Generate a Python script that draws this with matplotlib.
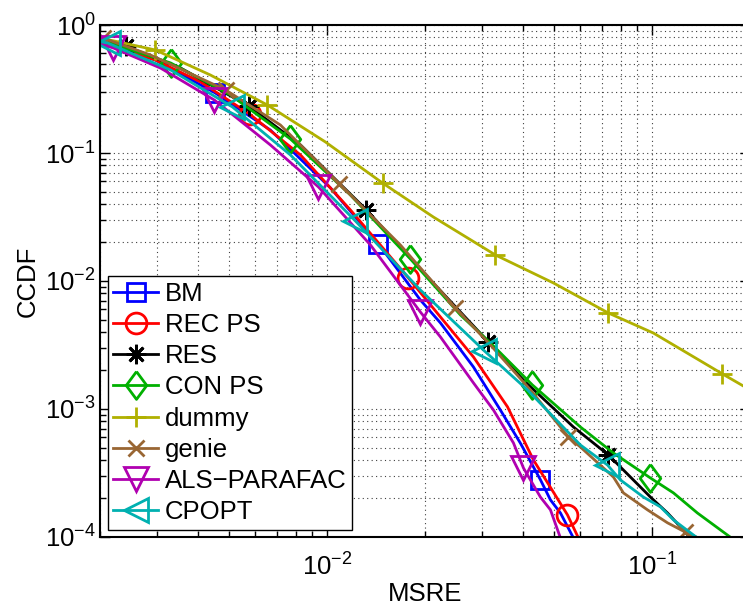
import matplotlib
matplotlib.use("Agg")
import matplotlib.pyplot as plt
from matplotlib.ticker import LogLocator, NullFormatter

plt.rcParams['font.family'] = ['Liberation Sans', 'DejaVu Sans']
plt.rcParams['mathtext.fontset'] = 'custom'
plt.rcParams['mathtext.rm'] = 'Liberation Sans'
plt.rcParams['mathtext.default'] = 'regular'

# ---------------- data (MSRE vs CCDF) ----------------
bm_x = [0.00201, 0.00296, 0.00453, 0.00669, 0.01024, 0.01438, 0.01936, 0.02232, 0.02819, 0.03413, 0.03933, 0.04531, 0.04864, 0.05222, 0.05726]
bm_y = [0.737, 0.533, 0.294, 0.151, 0.0533, 0.0195, 0.0071, 0.0047, 0.00213, 0.00098, 0.00054, 0.00028, 0.000195, 0.000154, 0.0000982]
bm_mk = [2, 5, 11]

rec_x = [0.00201, 0.00296, 0.00408, 0.00577, 0.00828, 0.01179, 0.01779, 0.02232, 0.02819, 0.03588, 0.04312, 0.05487, 0.05932]
rec_y = [0.737, 0.533, 0.359, 0.2017, 0.0965, 0.0359, 0.01055, 0.00523, 0.00255, 0.00104, 0.000400, 0.000149, 0.0000982]
rec_mk = [3, 6, 11]

res_x = [0.00201, 0.00240, 0.00354, 0.00573, 0.00828, 0.01321, 0.02079, 0.03135, 0.04018, 0.05726, 0.07336, 0.08574, 0.09881, 0.1115, 0.1222, 0.1330]
res_y = [0.763, 0.685, 0.461, 0.233, 0.1155, 0.0359, 0.01018, 0.00334, 0.00168, 0.000723, 0.000437, 0.000294, 0.000205, 0.000154, 0.000120, 0.0000945]
res_mk = [1, 3, 5, 7, 10]

con_x = [0.00201, 0.00330, 0.00504, 0.00771, 0.01179, 0.01804, 0.02572, 0.03180, 0.04282, 0.06017, 0.07601, 0.09881, 0.1163, 0.1378, 0.1754]
con_y = [0.763, 0.505, 0.284, 0.1286, 0.0470, 0.01485, 0.00542, 0.00328, 0.00154, 0.000723, 0.000453, 0.000289, 0.000221, 0.000154, 0.0000982]
con_mk = [1, 3, 5, 8, 11]

dum_x = [0.00201, 0.00296, 0.00437, 0.00655, 0.00988, 0.01480, 0.02123, 0.03295, 0.04969, 0.07336, 0.1009, 0.1645, 0.1910]
dum_y = [0.791, 0.638, 0.407, 0.237, 0.1219, 0.0583, 0.0316, 0.01596, 0.00965, 0.00562, 0.00392, 0.00188, 0.00151]
dum_mk = [1, 3, 5, 7, 9, 11]

gen_x = [0.00204, 0.00286, 0.00487, 0.00718, 0.01091, 0.01680, 0.02482, 0.03180, 0.04222, 0.05527, 0.06017, 0.07601, 0.08158, 0.09672, 0.1115, 0.1266, 0.1388]
gen_y = [0.791, 0.583, 0.311, 0.1655, 0.0573, 0.01911, 0.00615, 0.00316, 0.00141, 0.000604, 0.000504, 0.000294, 0.000221, 0.000163, 0.000129, 0.000109, 0.0000982]
gen_mk = [0, 2, 4, 6, 9, 15]

als_x = [0.00201, 0.00220, 0.00307, 0.00450, 0.00669, 0.00940, 0.01359, 0.01936, 0.02232, 0.02819, 0.03248, 0.03743, 0.04018, 0.04531, 0.04864, 0.05222]
als_y = [0.710, 0.661, 0.461, 0.259, 0.1155, 0.0543, 0.01911, 0.00572, 0.00365, 0.00160, 0.000982, 0.000543, 0.000346, 0.000205, 0.000163, 0.0000982]
als_mk = [1, 3, 5, 7, 12]

cp_x = [0.00201, 0.00211, 0.00330, 0.00511, 0.00771, 0.01222, 0.01936, 0.03048, 0.04133, 0.06017, 0.07287, 0.07987, 0.09401, 0.1060, 0.1163, 0.1378]
cp_y = [0.740, 0.723, 0.445, 0.229, 0.0965, 0.0294, 0.00850, 0.00284, 0.00141, 0.000523, 0.000365, 0.000279, 0.000205, 0.000172, 0.000136, 0.0000982]
cp_mk = [1, 3, 5, 7, 10]

labels = ["BM", "REC PS", "RES", "CON PS", "dummy", "genie", "ALS\u2212PARAFAC", "CPOPT"]

# ---------------- style ----------------
diamond = [(0, 1), (0.74, 0), (0, -1), (-0.74, 0), (0, 1)]
series = [
    (bm_x, bm_y, bm_mk, "#0000ff", "s", 12.5),
    (rec_x, rec_y, rec_mk, "#ff0000", "o", 15),
    (res_x, res_y, res_mk, "#000000", (8, 2, 0), 14),
    (con_x, con_y, con_mk, "#00b000", diamond, 20),
    (dum_x, dum_y, dum_mk, "#b0b000", "+", 15),
    (gen_x, gen_y, gen_mk, "#996633", "x", 11),
    (als_x, als_y, als_mk, "#b000b0", "v", 17),
    (cp_x, cp_y, cp_mk, "#00b0b0", "<", 17),
]

W, H = 743, 608
fig = plt.figure(figsize=(W / 100, H / 100), dpi=100)
ax = fig.add_axes([100 / W, 71 / H, 650 / W, 512 / H])

for (x, y, mk, c, m, ms), lab in zip(series, labels):
    ax.plot(x, y, color=c, lw=2, marker=m, markevery=mk, ms=ms,
            mfc='none', mec=c, mew=2, label=lab)

ax.set_xscale('log')
ax.set_yscale('log')
ax.set_xlim(0.002, 0.2)
ax.set_ylim(1e-4, 1)

ax.xaxis.set_major_locator(LogLocator(base=10))
ax.xaxis.set_minor_locator(LogLocator(base=10, subs=range(2, 10)))
ax.yaxis.set_major_locator(LogLocator(base=10))
ax.yaxis.set_minor_locator(LogLocator(base=10, subs=range(2, 10)))
ax.xaxis.set_minor_formatter(NullFormatter())
ax.yaxis.set_minor_formatter(NullFormatter())

ax.grid(True, which='both', linestyle=(0, (1, 3)), color='0.25', lw=0.8)
ax.set_axisbelow(True)
ax.tick_params(which='both', direction='in', top=True, right=True, labelsize=18.5, width=1)
ax.tick_params(which='major', length=7)
ax.tick_params(which='minor', length=4)
ax.tick_params(axis='y', pad=3)
ax.tick_params(axis='x', pad=12)
for s in ax.spines.values():
    s.set_linewidth(1.5)

ax.set_xlabel("MSRE", fontsize=18.5, labelpad=1)
ax.set_ylabel("CCDF", fontsize=18.5, labelpad=4)

leg = ax.legend(loc='lower left', bbox_to_anchor=(0.012, 0.014), borderaxespad=0,
                fontsize=18.5, frameon=True, fancybox=False, framealpha=1,
                edgecolor='black', handlelength=1.75, handletextpad=0.25,
                labelspacing=0.28, borderpad=0.22, numpoints=1)
leg.get_frame().set_linewidth(1.0)

fig.savefig("out.png", dpi=100)
